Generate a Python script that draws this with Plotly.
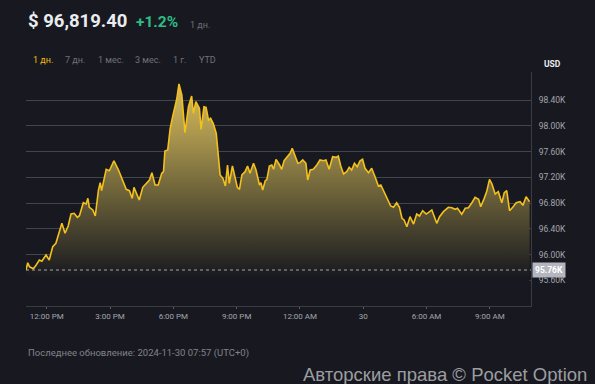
import pandas as pd
import plotly.graph_objects as go

# minutes since 2024-11-29 11:00 (local chart time)
minutes = [1, 6, 11, 22, 30, 39, 46, 58, 67, 77, 86, 93, 103, 112, 121, 129, 138, 147, 153, 164,
           172, 177, 181, 191, 198, 207, 212, 216, 229, 238, 251, 264, 276, 286, 295, 303, 308, 316, 323, 333,
           344, 352, 359, 368, 377, 387, 392, 396, 404, 411, 418, 430, 436, 444, 453, 463, 472, 477, 484, 494,
           499, 507, 513, 520, 526, 534, 542, 545, 553, 561, 568, 574, 579, 588, 596, 602, 608, 615, 624, 631,
           638, 648, 655, 665, 669, 674, 681, 686, 693, 700, 705, 712, 722, 728, 735, 744, 752, 758, 766, 774,
           780, 788, 797, 802, 809, 818, 828, 837, 847, 854, 863, 873, 883, 889, 896, 904, 913, 920, 927, 935,
           943, 951, 958, 965, 975, 984, 994, 1003, 1010, 1017, 1029, 1038, 1046, 1055, 1063, 1070, 1076, 1084, 1093, 1103,
           1112, 1120, 1129, 1139, 1145, 1155, 1169, 1177, 1188, 1202, 1212, 1221, 1228, 1240, 1250, 1259, 1269, 1278, 1288, 1294,
           1304, 1311, 1319, 1326, 1335, 1344, 1354, 1361, 1368, 1376, 1385, 1395, 1406, 1414, 1423, 1433]
prices = [95760, 95873, 95810, 95780, 95838, 95915, 95895, 95993, 95915, 96121, 96175, 96303, 96485, 96330, 96443, 96630, 96640, 96578, 96603, 96805,
          96785, 96873, 96734, 96692, 96599, 97002, 97116, 96992, 97324, 97302, 97457, 97313, 97131, 97013, 96992, 96873, 97044, 96925, 96847, 97044,
          97106, 97158, 97271, 97080, 97080, 97262, 97287, 97608, 97624, 97961, 98141, 98426, 98650, 98478, 97892, 98296, 98462, 98193, 98374, 98271,
          97945, 98296, 98286, 98089, 98116, 98027, 97883, 97727, 97236, 97184, 97065, 97391, 97106, 97375, 97209, 97044, 97013, 97236, 97287, 97375,
          97262, 97417, 97313, 97080, 97116, 97002, 97142, 97168, 97375, 97391, 97324, 97479, 97391, 97324, 97457, 97520, 97572, 97650, 97546, 97417,
          97427, 97469, 97417, 97158, 97313, 97324, 97391, 97469, 97457, 97469, 97324, 97520, 97510, 97531, 97375, 97251, 97287, 97355, 97313, 97417,
          97365, 97457, 97479, 97339, 97271, 97339, 97200, 97065, 97080, 97002, 96847, 96754, 96734, 96805, 96734, 96563, 96537, 96433, 96588, 96474,
          96630, 96599, 96681, 96630, 96650, 96692, 96485, 96588, 96666, 96734, 96728, 96703, 96718, 96625, 96718, 96728, 96805, 96889, 96857, 96743,
          96873, 96977, 97168, 97096, 96940, 96977, 96805, 96961, 96992, 96681, 96734, 96805, 96821, 96764, 96899, 96819.40]

start_price = 95760
start_label = "95.76K"
y_ticks = [95600, 96000, 96400, 96800, 97200, 97600, 98000, 98400]
y_tick_labels = ["95.60K", "96.00K", "96.40K", "96.80K", "97.20K", "97.60K", "98.00K", "98.40K"]
x_tick_times = ["2024-11-29 12:00", "2024-11-29 15:00", "2024-11-29 18:00", "2024-11-29 21:00",
                "2024-11-30 00:00", "2024-11-30 03:00", "2024-11-30 06:00", "2024-11-30 09:00"]
x_tick_labels = ["12:00 PM", "3:00 PM", "6:00 PM", "9:00 PM", "12:00 AM", "30", "6:00 AM", "9:00 AM"]
tabs = ["1 дн.", "7 дн.", "1 мес.", "3 мес.", "1 г.", "YTD"]

base = pd.Timestamp("2024-11-29 11:00")
times = [base + pd.Timedelta(minutes=m) for m in minutes]

W, H = 595, 384
L, R, T, B = 26, 531, 72, 306
BG = "#181920"
FONT = "Roboto"

def px(x):
    return (x - L) / (R - L)

def py(y):
    return (B - y) / (B - T)

fig = go.Figure()
fig.add_trace(go.Scatter(
    x=times, y=prices, mode="lines",
    line=dict(color="#f3c01c", width=1.6),
    fill="tozeroy",
    fillgradient=dict(type="vertical", start=95650, stop=98700,
                      colorscale=[[0, "rgba(24,25,32,1)"], [0.35, "rgba(92,84,52,1)"],
                                  [0.7, "rgba(165,146,76,1)"], [1, "rgba(222,192,90,1)"]]),
    hoverinfo="skip", showlegend=False))

fig.add_shape(type="line", xref="paper", yref="y", x0=0, x1=1, y0=start_price, y1=start_price,
              line=dict(color="rgba(200,200,205,0.8)", width=1, dash="dot"))

ann = []
ann.append(dict(text="<b>$ 96,819.40</b>", x=px(26), y=py(21), xanchor="left", yanchor="middle",
                font=dict(size=18.5, color="#eaecef", family=FONT)))
ann.append(dict(text="<b>+1.2%</b>", x=px(134), y=py(22), xanchor="left", yanchor="middle",
                font=dict(size=15.5, color="#2ebd85", family=FONT)))
ann.append(dict(text="1 дн.", x=px(188), y=py(25), xanchor="left", yanchor="middle",
                font=dict(size=9, color="#6b6e76", family=FONT)))
tab_x = [31, 63, 96, 133, 171, 197]
for i, (t, x) in enumerate(zip(tabs, tab_x)):
    ann.append(dict(text=t, x=px(x), y=py(60), xanchor="left", yanchor="middle",
                    font=dict(size=9, color="#f0b90b" if i == 0 else "#6f727a", family=FONT)))
ann.append(dict(text="<b>USD</b>", x=px(552), y=py(64), xanchor="center", yanchor="middle",
                font=dict(size=8.5, color="#eaecef", family=FONT)))
ann.append(dict(text="<b>" + start_label + "</b>", xref="paper", yref="y", x=px(532), y=start_price,
                xanchor="left", yanchor="middle", bgcolor="#b3b6bf", borderpad=2,
                font=dict(size=8.5, color="#ffffff", family=FONT)))
ann.append(dict(text="Последнее обновление: 2024-11-30 07:57 (UTC+0)", x=px(26), y=py(353),
                xanchor="left", yanchor="middle", font=dict(size=9.5, color="#80838b", family=FONT)))
ann.append(dict(text="Авторские права © Pocket Option", x=px(589), y=py(374),
                xanchor="right", yanchor="middle",
                font=dict(size=18.5, color="#9c9da1", family="Liberation Sans")))
for a in ann:
    a.setdefault("xref", "paper")
    a.setdefault("yref", "paper")
    a["showarrow"] = False

fig.update_layout(
    width=W, height=H,
    margin=dict(l=L, r=W - R, t=T, b=H - B),
    paper_bgcolor=BG, plot_bgcolor=BG,
    annotations=ann,
    xaxis=dict(range=[base + pd.Timedelta(minutes=1), base + pd.Timedelta(minutes=1437)],
               tickvals=pd.to_datetime(x_tick_times), ticktext=x_tick_labels,
               showgrid=False, zeroline=False, showline=True, linecolor="#3a3c44", linewidth=1,
               ticks="outside", ticklen=2, tickcolor="#5a5c64",
               tickfont=dict(size=8, color="#a3a6ad", family=FONT), fixedrange=True),
    yaxis=dict(range=[95201, 98835], side="right", tickvals=y_ticks, ticktext=y_tick_labels,
               showgrid=True, gridcolor="#43454d", gridwidth=1, zeroline=False,
               showline=True, linecolor="#3a3c44", linewidth=1, ticks="", ticklabelstandoff=5,
               tickfont=dict(size=8.5, color="#a3a6ad", family=FONT), fixedrange=True),
)

fig.write_html("out.html")
